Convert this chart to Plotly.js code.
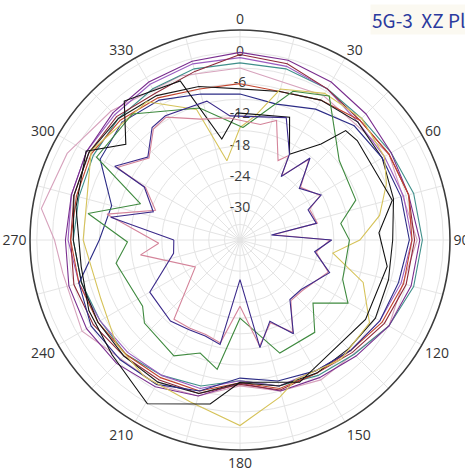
<!DOCTYPE html>
<html>
<head>
<meta charset="utf-8">
<script src="https://cdn.plot.ly/plotly-3.0.1.min.js"></script>
<style>html,body{margin:0;padding:0;background:#fff;}#chart{width:465px;height:471px;}</style>
</head>
<body>
<div id="chart"></div>
<script>
// ---- tick labels ----
const angleTicks = [0,15,30,45,60,75,90,105,120,135,150,165,180,195,210,225,240,255,270,285,300,315,330,345];
const angleTickText = ['0','','30','','60','','90','','120','','150','','180','','210','','240','','270','','300','','330',''];
const radialGrid = [-33,-30,-27,-24,-21,-18,-15,-12,-9,-6,-3,0,3];
const radialLabelVals = [0,-6,-12,-18,-24,-30];
const radialLabelText = ['0','-6','-12','-18','-24','-30'];
const titleText = '5G-3  XZ Plane';

// ---- series (theta in degrees, gain in dB) ----
const step15 = [0,15,30,45,60,75,90,105,120,135,150,165,180,195,210,225,240,255,270,285,300,315,330,345,360];

const thetaStarNavy = [270,280,288,299,300.5,312,322,329,346.6,355.4,20.7,30,33,40.5,49,61,66,77.7,81,90,98.9,110,129,140,150.3,159.8,169.5,180,190.8,199.9,209.9,220.6,240,258.7,270];
const rStarNavy     = [-23.3,-10.8,-18.5,-15,-8.1,-12.2,-8.6,-8.2,-8.6,-12.1,-10.9,-17,-21.5,-15.3,-20.9,-18.2,-21.7,-21,-29.9,-18.4,-21.5,-17.7,-20.9,-21.1,-15.3,-19.4,-15,-28.4,-15.6,-16.4,-16.2,-15.5,-16,-23,-23.3];

const thetaStarPink = [267.7,281,289.4,299,300.5,312,322,329,342,355,10,17,25.6,30,33,40.5,49,61,66,77.7,81,90,98.9,110,129,140,150.3,159.8,169.5,180,190.8,199.9,209.9,219.8,239,261.5,267.7];
const rStarPink     = [-20.4,-10,-18.8,-15.3,-8.6,-12.5,-9,-8.5,-11.6,-12.5,-13.5,-12,-19.1,-17.3,-21.3,-15.6,-20.6,-18.4,-21.4,-20.8,-29.5,-18.7,-21.2,-18,-20.6,-20.8,-15.6,-19.1,-15.3,-23.3,-15.9,-16.7,-16.5,-16.2,-26,-16.7,-20.4];

const thetaGreen = [1.5,19.6,31.8,51.3,71,80.7,90,111,120.3,130.8,141,160.6,180,190,199.4,209.7,229,235.8,259.4,269,279.9,290,300,319.5,343,361.5];
const rGreen     = [-14.4,-5.7,-3.5,-11.6,-12.5,-16.4,-15,-14.9,-12,-17.5,-13.2,-13,-21,-10.8,-13,-10.4,-11.7,-13.4,-11.8,-14.4,-6.4,-15.7,-4.2,-4.2,-9.5,-14.4];

const thetaYellow = [0,7,15,30,45,60,69,80,90,98,109,122.6,140,158,165.8,180,197,215,230,247,270,301,326,341.6,350.6,360];
const rYellow     = [-14.4,-12,-6,-3.5,-3,-4,-5.9,-8.8,-13,-18,-11,-6.5,-6,-7.2,-4.9,-0.4,-3.5,-4,-5,-7,-5.9,-2.7,-4,-9.6,-20.6,-14.4];

const thetaBlack = [358.5,382,390,400.2,404,409.7,435.4,447,460.2,482.3,517.3,540,550.3,569.5,588,605,620.5,641.4,660,670,680.2,699.4,709.8,718.5];
const rBlack     = [-11.6,-10.6,-17,-11.9,-6.8,-6.5,-5.8,-9.3,-7.3,-7.5,-6.4,-8.7,-4,0.1,-3,-4,-5.1,-3.9,-1.9,-7.4,-1.3,-3.4,-16.3,-11.6];

const rBlack2    = [-7,-6.5,-5,-4,-4.5,-5.5,-6.7,-6.5,-6,-6.5,-6.5,-7,-8.6,-5.5,-4.5,-4.5,-4.5,-4.5,-4,-3,-2.5,-3,-4,-5.5,-7];
const rPurple    = [0,-0.3,-1,-1.8,-2.5,-2.5,-1.5,-2,-3,-4.5,-5.5,-6,-8.5,-5,-3.5,-2.5,-2,-2,-2.5,-2.5,-2,-1.5,-1,-0.5,0];
const rDarkRed   = [-0.4,-1,-2.5,-3.5,-3,-2.5,-2.5,-3,-4,-5.5,-6.5,-6.2,-8.3,-5.5,-5,-4.5,-3.5,-3,-3.5,-3,-2.5,-2.5,-3.5,-2.5,-0.4];
const rRed       = [-6,-6.5,-5,-3.5,-3,-2.5,-3,-3.5,-4.5,-6,-6.5,-6.5,-8.6,-6,-5.5,-5,-4.5,-4,-3.5,-3.5,-3,-3.5,-4.5,-6,-6];
const rTeal      = [-2,-2,-2.5,-3,-2.5,-1.5,-1,-1.5,-3,-5,-6,-7,-9,-7,-6,-5,-5,-4.5,-4,-4,-3.5,-3,-2.5,-2,-2];
const rViolet    = [-1,-1.5,-2.5,-4,-4,-3.5,-3,-4,-5,-6,-7,-7,-9,-6.5,-6,-5.5,-5,-4,-3,-2.5,-2,-2,-1.5,-1,-1];
const rNavy2     = [-8,-9,-7,-5,-4.5,-4,-3.5,-4.5,-5,-6,-7,-8,-9.5,-6,-4,-3.5,-3,-4,-9,-10.5,-5,-4,-5,-7,-8];

const thetaPinkOuter = [0,30,60,90,120,150,165,180,195,210,240,259.4,270,279,296.6,315,340,360];
const rPinkOuter     = [-3,-4,-3,-2,-3,-5,-6,-8,-5,-4,-1,-1.4,-0.4,2.6,1.1,-1,-2.5,-3];

function line(theta, r, color){
  return {type:'scatterpolar', mode:'lines', theta:theta, r:r,
          line:{color:color, width:1.1}, hoverinfo:'skip', showlegend:false};
}

const data = [
  {type:'scatterpolar', mode:'text', theta:radialLabelVals.map(()=>0), r:radialLabelVals,
   text:radialLabelText, textposition:'middle center',
   textfont:{family:'Open Sans, DejaVu Sans, sans-serif', size:14, color:'#3a3a3a'},
   hoverinfo:'skip', showlegend:false, cliponaxis:false},
  line(thetaPinkOuter, rPinkOuter, '#d7a3bd'),
  line(step15, rTeal, '#3f8f8a'),
  line(step15, rViolet, '#9a5cc0'),
  line(step15, rPurple, '#7a2f8f'),
  line(step15, rDarkRed, '#8e2a3a'),
  line(step15, rRed, '#c2452f'),
  line(step15, rBlack2, '#1a1a1a'),
  line(step15, rNavy2, '#2c2c86'),
  line(thetaYellow, rYellow, '#d6c35a'),
  line(thetaGreen, rGreen, '#3f8a3f'),
  line(thetaBlack, rBlack, '#111111'),
  line(thetaStarPink, rStarPink, '#d4849a'),
  line(thetaStarNavy, rStarNavy, '#3b2a8a')
];

const layout = {
  width:465, height:471,
  margin:{l:30, r:15, t:30, b:21},
  paper_bgcolor:'#ffffff',
  showlegend:false,
  polar:{
    domain:{x:[0,1], y:[0,1]},
    bgcolor:'#ffffff',
    angularaxis:{
      rotation:90, direction:'clockwise',
      tickmode:'array', tickvals:angleTicks, ticktext:angleTickText,
      showline:true, linecolor:'#3c3c3c', linewidth:1.6,
      showgrid:true, gridcolor:'#e4e4e4', gridwidth:1,
      ticks:'', tickfont:{family:'Open Sans, DejaVu Sans, sans-serif', size:14, color:'#333'}
    },
    radialaxis:{
      range:[-36,4.3], angle:90,
      tickmode:'array', tickvals:radialGrid,
      showticklabels:false, ticks:'', showline:false,
      showgrid:true, gridcolor:'#e4e4e4', gridwidth:1
    }
  },
  annotations:[{
    text:titleText, xref:'paper', yref:'paper', x:0.81, y:1.024,
    xanchor:'left', yanchor:'middle', showarrow:false,
    bgcolor:'#fbf9f1',
    font:{family:'Noto Sans CJK SC, Noto Sans, sans-serif', size:19, color:'#2b3a9e'}
  }]
};

Plotly.newPlot('chart', data, layout, {displayModeBar:false, staticPlot:true});
</script>
</body>
</html>
